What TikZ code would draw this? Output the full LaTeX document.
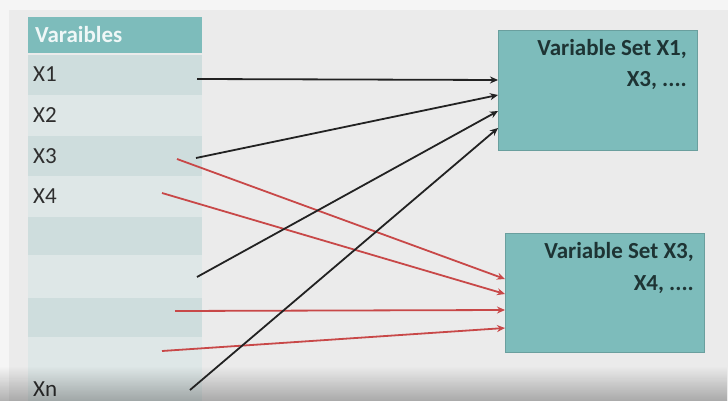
\documentclass[tikz,border=0pt]{standalone}
\usepackage{fontspec}
\setmainfont{Carlito}
\usetikzlibrary{arrows.meta,fadings}
\definecolor{bggray}{HTML}{EBEBEB}
\definecolor{rowdark}{HTML}{CEDDDD}
\definecolor{rowlight}{HTML}{DEE7E7}
\definecolor{teal1}{HTML}{7DBCBB}
\definecolor{tealborder}{HTML}{6A9F9E}
\definecolor{boxtext}{HTML}{1E3434}
\definecolor{labeltext}{HTML}{2E2E2E}
\definecolor{redline}{HTML}{C84848}
\definecolor{blackline}{HTML}{222222}
\tikzset{
  row/.style={anchor=north west, minimum width=174pt, inner sep=0pt, outer sep=0pt},
  rowlbl/.style={anchor=west, font=\fontsize{23}{23}\selectfont, text=labeltext, inner sep=0pt},
  setbox/.style={anchor=north west, fill=teal1, draw=tealborder, line width=0.8pt, inner sep=0pt},
  settext/.style={anchor=base east, font=\bfseries\fontsize{23}{23}\selectfont, text=boxtext, inner sep=0pt},
  blk/.style={draw=blackline, line width=1.8pt, -{Stealth[length=8pt,width=7pt]}},
  rd/.style={draw=redline, line width=1.8pt, -{Stealth[length=8pt,width=7pt]}},
}
\begin{document}
\begin{tikzpicture}[x=1pt,y=-1pt]
\useasboundingbox (0,0) rectangle (728,401);
\fill[white!96!black] (0,0) rectangle (728,401);
\fill[bggray] (9,10) rectangle (728,401);
% table
\node[row, fill=teal1, minimum height=36pt] (hdr) at (28,17) {};
\node[row, fill=rowdark, minimum height=40pt] (r1) at (28,55) {};
\node[row, fill=rowlight, minimum height=41pt] (r2) at (28,95) {};
\node[row, fill=rowdark, minimum height=40pt] (r3) at (28,136) {};
\node[row, fill=rowlight, minimum height=41pt] (r4) at (28,176) {};
\node[row, fill=rowdark, minimum height=38pt] (r5) at (28,217) {};
\node[row, fill=rowlight, minimum height=43pt] (r6) at (28,255) {};
\node[row, fill=rowdark, minimum height=39pt] (r7) at (28,298) {};
\node[row, fill=rowlight, minimum height=64pt] (r8) at (28,337) {};
\node[anchor=west, inner sep=0pt, text=white!88!teal1, font=\bfseries\fontsize{23}{23}\selectfont] (hl) at (35,35) {Varaibles};
\node[rowlbl] (l1) at (33,74) {X1};
\node[rowlbl] (l2) at (33,115) {X2};
\node[rowlbl] (l3) at (33,156) {X3};
\node[rowlbl] (l4) at (33,196) {X4};
\node[rowlbl] (ln) at (33,389) {Xn};
% boxes
\node[setbox, minimum width=199pt, minimum height=120pt] (b1) at (498,30) {};
\node[setbox, minimum width=199pt, minimum height=119pt] (b2) at (505,233) {};
\node[settext] (t1a) at (687,56) {Variable Set X1,};
\node[settext] (t1b) at (687,87) {X3, ....};
\node[settext] (t2a) at (694,258) {Variable Set X3,};
\node[settext] (t2b) at (694,290) {X4, ....};
% bottom shadow
\fill[black, opacity=0.28, path fading=north] (0,366) rectangle (728,401);
% connector end points
\coordinate (s1) at (197,79);
\coordinate (s2) at (196,158);
\coordinate (s3) at (197,277);
\coordinate (s4) at (190,390);
\coordinate (e1) at (498,80);
\coordinate (e2) at (498,95);
\coordinate (e3) at (498,111);
\coordinate (e4) at (498,128);
\coordinate (u1) at (177,159);
\coordinate (u2) at (162,193);
\coordinate (u3) at (175,311);
\coordinate (u4) at (162,351);
\coordinate (f1) at (505,279);
\coordinate (f2) at (505,294);
\coordinate (f3) at (505,310);
\coordinate (f4) at (505,328);
\draw[rd] (u1) -- (f1);
\draw[rd] (u2) -- (f2);
\draw[rd] (u3) -- (f3);
\draw[rd] (u4) -- (f4);
\draw[blk] (s1) -- (e1);
\draw[blk] (s2) -- (e2);
\draw[blk] (s3) -- (e3);
\draw[blk] (s4) -- (e4);
\end{tikzpicture}
\end{document}
